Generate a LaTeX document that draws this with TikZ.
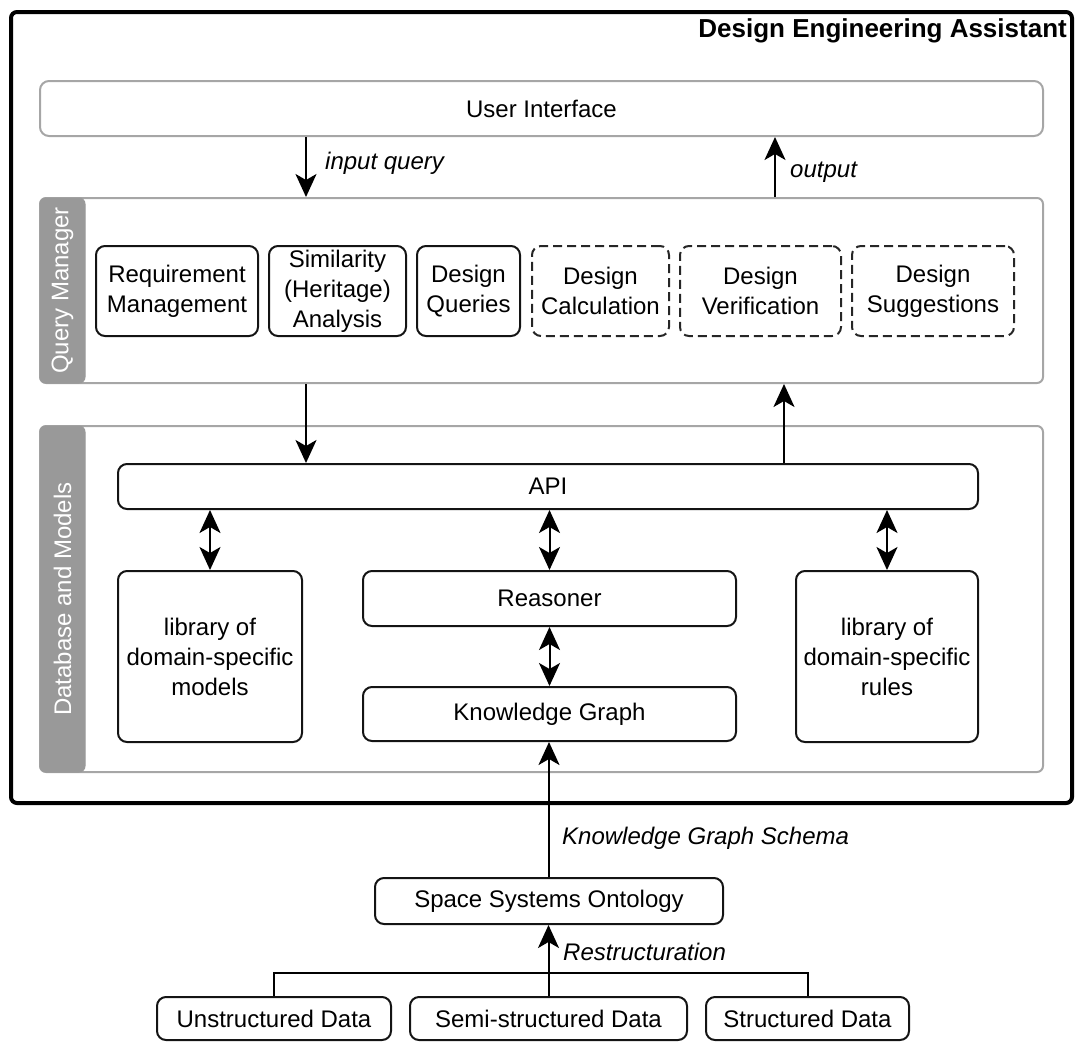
\documentclass[tikz,border=0pt]{standalone}
\usepackage{fontspec}
\setmainfont{Liberation Sans}
\usetikzlibrary{arrows.meta}
\definecolor{lanegray}{RGB}{166,166,166}
\definecolor{tabgray}{RGB}{153,153,153}
\definecolor{boxline}{RGB}{20,20,20}
\tikzset{
  txt/.style={font=\fontsize{24}{30}\selectfont, align=center},
  lane/.style={draw=lanegray, line width=2pt, rounded corners=6pt, inner sep=0pt},
  lanetab/.style={draw=tabgray, fill=tabgray, line width=1pt, rounded corners=6pt,
    inner sep=0pt, text=white, rotate=90, txt},
  ubox/.style={draw=lanegray, line width=2pt, rounded corners=9pt, inner sep=0pt, txt},
  box/.style={draw=boxline, line width=2pt, rounded corners=9pt, inner sep=0pt, txt},
  plan/.style={box, draw=black!85, dash pattern=on 9pt off 5pt},
  tip/.tip={Stealth[length=23pt, width=21pt, inset=6pt]},
  arr/.style={line width=2pt, -tip},
  darr/.style={line width=2pt, tip-tip},
  lbl/.style={font=\fontsize{24}{30}\selectfont\itshape, anchor=west, inner sep=0pt},
}
\begin{document}
\begin{tikzpicture}[x=1pt, y=-1pt]
\useasboundingbox (0,0) rectangle (1079,1042);

% outer frame of the assistant
\node[draw=black, line width=4pt, rounded corners=6pt, inner sep=0pt,
      minimum width=1061pt, minimum height=791pt] (dea) at (541.5,407.5) {};
\node[anchor=east, inner sep=0pt, font=\fontsize{26}{30}\selectfont\bfseries]
      (title) at (1067,31) {Design Engineering Assistant};

% user interface
\node[ubox, minimum width=1003pt, minimum height=55pt] (ui) at (541.5,108.5) {User Interface};

% query manager lane
\node[lane, minimum width=1003pt, minimum height=185pt] (qm) at (541.5,290.5) {};
\node[lanetab, minimum width=185pt, minimum height=45pt] (qmtab) at (62.5,290.5) {Query Manager};

\node[box, minimum width=162pt, minimum height=90pt] (req) at (177,291) {Requirement\\Management};
\node[box, minimum width=137pt, minimum height=90pt] (sim) at (337.5,291) {Similarity\\(Heritage)\\Analysis};
\node[box, minimum width=103pt, minimum height=90pt] (dq) at (468.5,291) {Design\\Queries};
\node[plan, minimum width=137pt, minimum height=90pt] (calc) at (600.5,291) {Design\\Calculation};
\node[plan, minimum width=161pt, minimum height=90pt] (verif) at (760.5,291) {Design\\Verification};
\node[plan, minimum width=162pt, minimum height=90pt] (sugg) at (933,291) {Design\\Suggestions};

% database and models lane
\node[lane, minimum width=1003pt, minimum height=346pt] (dm) at (541.5,599) {};
\node[lanetab, minimum width=346pt, minimum height=45pt] (dmtab) at (62.5,599) {Database and Models};

\node[box, minimum width=860pt, minimum height=45pt] (api) at (548,486.5) {API};
\node[box, minimum width=184pt, minimum height=171pt] (libm) at (210,656.5) {library of\\domain-specific\\models};
\node[box, minimum width=373pt, minimum height=55pt] (reas) at (549.5,598.5) {Reasoner};
\node[box, minimum width=373pt, minimum height=54pt] (kg) at (549.5,714) {Knowledge Graph};
\node[box, minimum width=182pt, minimum height=171pt] (libr) at (887,656.5) {library of\\domain-specific\\rules};

% sources below the assistant
\node[box, minimum width=348pt, minimum height=46pt] (onto) at (549,901) {Space Systems Ontology};
\node[box, minimum width=234pt, minimum height=43pt] (uns) at (274,1018.5) {Unstructured Data};
\node[box, minimum width=277pt, minimum height=43pt] (semi) at (548.5,1018.5) {Semi-structured Data};
\node[box, minimum width=203pt, minimum height=43pt] (str) at (807.5,1018.5) {Structured Data};

% columns of the vertical connectors
\coordinate (xin) at (306,0);
\coordinate (xout) at (775,0);
\coordinate (xup) at (784,0);

\draw[arr] (ui.south -| xin) -- (qm.north -| xin);
\draw[arr] (qm.north -| xout) -- (ui.south -| xout);
\draw[arr] (qm.south -| xin) -- (api.north -| xin);
\draw[arr] (api.north -| xup) -- (qm.south -| xup);

\draw[darr] (api.south -| libm.north) -- (libm.north);
\draw[darr] (api.south -| reas.north) -- (reas.north);
\draw[darr] (api.south -| libr.north) -- (libr.north);
\draw[darr] (reas.south) -- (kg.north);

\draw[arr] (onto.north) -- (kg.south -| onto.north);
\draw[line width=2pt] (uns.north) -- ++(0,-23) -| (str.north);
\draw[arr] (semi.north) -- (onto.south -| semi.north);

% connector labels
\node[lbl] (lin) at (325,163) {input query};
\node[lbl] (lout) at (790,172) {output};
\node[lbl] (lschema) at (562,838) {Knowledge Graph Schema};
\node[lbl] (lrestr) at (563,952) {Restructuration};
\end{tikzpicture}
\end{document}
